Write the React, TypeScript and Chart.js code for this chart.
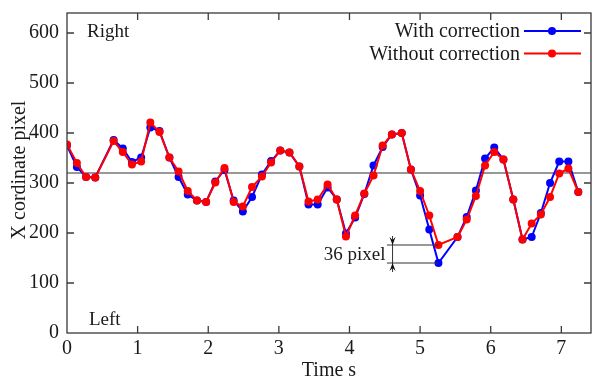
import React, { useEffect, useRef } from "react";
import { Chart, registerables } from "chart.js";

Chart.register(...registerables);

// Sample times (s)
const TIME = [
  0, 0.14, 0.27, 0.4, 0.66, 0.79, 0.92, 1.05, 1.18, 1.31, 1.45, 1.58, 1.71, 1.84,
  1.97, 2.1, 2.23, 2.36, 2.49, 2.62, 2.76, 2.89, 3.02, 3.15, 3.29, 3.42, 3.55, 3.69,
  3.82, 3.95, 4.08, 4.21, 4.34, 4.47, 4.6, 4.74, 4.87, 5.0, 5.13, 5.26, 5.53, 5.66,
  5.79, 5.92, 6.05, 6.18, 6.32, 6.45, 6.58, 6.71, 6.84, 6.97, 7.1, 7.24,
];

// X coordinate (pixel) with correction
const WITH_CORRECTION = [
  375, 332, 312, 311, 386, 369, 342, 351, 411, 404, 351, 312, 277, 265,
  262, 303, 326, 265, 243, 272, 317, 344, 365, 361, 333, 257, 257, 291,
  267, 199, 231, 278, 335, 372, 397, 400, 327, 275, 207, 140, 192, 232,
  285, 349, 371, 347, 267, 187, 192, 240, 300, 343, 343, 282,
];

// X coordinate (pixel) without correction
const WITHOUT_CORRECTION = [
  377, 340, 312, 311, 384, 362, 337, 343, 421, 402, 351, 323, 284, 265,
  262, 301, 330, 262, 253, 292, 313, 341, 365, 361, 333, 263, 267, 297,
  267, 193, 235, 279, 315, 375, 397, 400, 327, 284, 235, 176, 192, 227,
  274, 335, 362, 347, 267, 187, 219, 237, 272, 319, 329, 282,
];

const CENTER_LEVEL = 320;
const X_RANGE = [0, 7.42];
const Y_RANGE = [0, 640];
const X_TICKS = [0, 1, 2, 3, 4, 5, 6, 7];
const Y_TICKS = [0, 100, 200, 300, 400, 500, 600];
const SERIES_NAMES = ["With correction", "Without correction"];
const SERIES_COLORS = ["#0000ff", "#ff0000"];
// Time of the sample where the two traces differ most, and the left end of the bracket
const GAP_TIME = 5.26;
const BRACKET_START = 4.53;
const BRACKET_ARROW = 4.61;

const FONT = '"Liberation Serif", "Times New Roman", serif';
const TEXT = "#1a1a1a";
const FRAME = "#3a3a3a";

const overlay = {
  id: "overlay",
  afterDraw(chart: any) {
    const { ctx, chartArea, scales } = chart;
    const { left, right, top, bottom } = chartArea;
    const xs = scales.x;
    const ys = scales.y;
    ctx.save();

    // frame
    ctx.strokeStyle = FRAME;
    ctx.lineWidth = 1.3;
    ctx.strokeRect(left, top, right - left, bottom - top);

    // inward ticks on all four sides
    const tl = 7;
    ctx.beginPath();
    X_TICKS.forEach((v) => {
      if (v === X_RANGE[0]) return;
      const px = xs.getPixelForValue(v);
      ctx.moveTo(px, bottom);
      ctx.lineTo(px, bottom - tl);
      ctx.moveTo(px, top);
      ctx.lineTo(px, top + tl);
    });
    Y_TICKS.forEach((v) => {
      if (v === Y_RANGE[0]) return;
      const py = ys.getPixelForValue(v);
      ctx.moveTo(left, py);
      ctx.lineTo(left + tl, py);
      ctx.moveTo(right, py);
      ctx.lineTo(right - tl, py);
    });
    ctx.stroke();

    // axis titles
    ctx.fillStyle = TEXT;
    ctx.font = `20px ${FONT}`;
    ctx.textAlign = "center";
    ctx.textBaseline = "middle";
    ctx.fillText("Time s", (left + right) / 2, 371);
    ctx.save();
    ctx.translate(20, (top + bottom) / 2 - 3);
    ctx.rotate(-Math.PI / 2);
    ctx.fillText("X cordinate pixel", 0, 0);
    ctx.restore();

    // side labels
    ctx.font = `19px ${FONT}`;
    ctx.textAlign = "left";
    ctx.fillText("Right", 87, 32);
    ctx.fillText("Left", 89, 320);

    // legend
    ctx.font = `20px ${FONT}`;
    ctx.textAlign = "right";
    SERIES_NAMES.forEach((name, i) => {
      const y = 31 + i * 22.5;
      ctx.fillStyle = TEXT;
      ctx.fillText(name, 520, y + 1);
      ctx.strokeStyle = SERIES_COLORS[i];
      ctx.lineWidth = 2;
      ctx.beginPath();
      ctx.moveTo(524, y);
      ctx.lineTo(581, y);
      ctx.stroke();
      ctx.fillStyle = SERIES_COLORS[i];
      ctx.beginPath();
      ctx.arc(552, y, 4, 0, Math.PI * 2);
      ctx.fill();
    });

    // bracket marking the largest difference between the two traces
    const gi = TIME.indexOf(GAP_TIME);
    const hi = WITHOUT_CORRECTION[gi];
    const lo = WITH_CORRECTION[gi];
    const yHi = ys.getPixelForValue(hi);
    const yLo = ys.getPixelForValue(lo);
    const x0 = xs.getPixelForValue(BRACKET_START);
    const x1 = xs.getPixelForValue(GAP_TIME);
    const xa = xs.getPixelForValue(BRACKET_ARROW);
    ctx.strokeStyle = "#333";
    ctx.fillStyle = "#111";
    ctx.lineWidth = 1;
    ctx.beginPath();
    ctx.moveTo(x0, yHi);
    ctx.lineTo(x1, yHi);
    ctx.moveTo(x0, yLo);
    ctx.lineTo(x1, yLo);
    ctx.moveTo(xa, yHi - 9);
    ctx.lineTo(xa, yLo + 9);
    ctx.stroke();
    // arrowheads
    ctx.beginPath();
    ctx.moveTo(xa, yHi);
    ctx.lineTo(xa - 3, yHi - 8);
    ctx.lineTo(xa, yHi - 5);
    ctx.lineTo(xa + 3, yHi - 8);
    ctx.closePath();
    ctx.fill();
    ctx.beginPath();
    ctx.moveTo(xa, yLo);
    ctx.lineTo(xa - 3, yLo + 8);
    ctx.lineTo(xa, yLo + 5);
    ctx.lineTo(xa + 3, yLo + 8);
    ctx.closePath();
    ctx.fill();
    ctx.fillStyle = TEXT;
    ctx.font = `19px ${FONT}`;
    ctx.textAlign = "right";
    ctx.fillText(`${hi - lo} pixel`, xa - 7, (yHi + yLo) / 2 + 1);

    ctx.restore();
  },
};

export default function App() {
  const ref = useRef<HTMLCanvasElement>(null);

  useEffect(() => {
    document.body.style.margin = "0";
    const canvas = ref.current;
    if (!canvas) return;

    const toPoints = (vals: number[]) => TIME.map((t, i) => ({ x: t, y: vals[i] }));

    const chart = new Chart(canvas, {
      type: "line",
      data: {
        datasets: [
          {
            label: SERIES_NAMES[1],
            data: toPoints(WITHOUT_CORRECTION),
            borderColor: SERIES_COLORS[1],
            backgroundColor: SERIES_COLORS[1],
            borderWidth: 2,
            pointRadius: 4,
            pointBorderWidth: 0,
            tension: 0,
          },
          {
            label: SERIES_NAMES[0],
            data: toPoints(WITH_CORRECTION),
            borderColor: SERIES_COLORS[0],
            backgroundColor: SERIES_COLORS[0],
            borderWidth: 2,
            pointRadius: 4,
            pointBorderWidth: 0,
            tension: 0,
          },
          {
            label: "center",
            data: [
              { x: X_RANGE[0], y: CENTER_LEVEL },
              { x: X_RANGE[1], y: CENTER_LEVEL },
            ],
            borderColor: "#333",
            borderWidth: 1.2,
            pointRadius: 0,
          },
        ],
      },
      options: {
        animation: false,
        responsive: false,
        devicePixelRatio: 1,
        layout: { padding: { left: 0, right: 2, top: 13, bottom: 0 } },
        plugins: { legend: { display: false }, tooltip: { enabled: false } },
        scales: {
          x: {
            type: "linear",
            min: X_RANGE[0],
            max: X_RANGE[1],
            grid: { display: false, drawTicks: false },
            border: { display: false },
            afterBuildTicks: (s: any) => {
              s.ticks = X_TICKS.map((v) => ({ value: v }));
            },
            afterFit: (s: any) => {
              s.height = 49;
              s.paddingLeft = 0;
              s.paddingRight = 0;
              s.paddingTop = 0;
              s.paddingBottom = 0;
            },
            ticks: {
              padding: 4,
              color: TEXT,
              font: { family: FONT, size: 20 },
              maxRotation: 0,
              callback: (v: any) => String(v),
            },
          },
          y: {
            type: "linear",
            min: Y_RANGE[0],
            max: Y_RANGE[1],
            grid: { display: false, drawTicks: false },
            border: { display: false },
            afterBuildTicks: (s: any) => {
              s.ticks = Y_TICKS.map((v) => ({ value: v }));
            },
            afterFit: (s: any) => {
              s.width = 67;
              s.paddingLeft = 0;
              s.paddingRight = 0;
              s.paddingTop = 0;
              s.paddingBottom = 0;
            },
            ticks: {
              padding: 8,
              color: TEXT,
              font: { family: FONT, size: 20 },
              callback: (v: any) => String(v),
            },
          },
        },
      },
      plugins: [overlay],
    });

    return () => chart.destroy();
  }, []);

  return <canvas ref={ref} width={595} height={382} />;
}
